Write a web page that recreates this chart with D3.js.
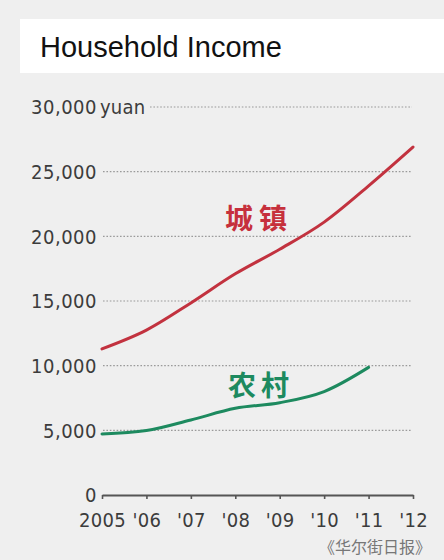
<!DOCTYPE html>
<html>
<head>
<meta charset="utf-8">
<script src="https://cdn.jsdelivr.net/npm/d3@7/dist/d3.min.js"></script>
<style>
  html, body { margin: 0; padding: 0; background: #efefef; }
  svg { display: block; }
</style>
</head>
<body>
<script>
// Per-capita household income, yuan
const years = [2005, 2006, 2007, 2008, 2009, 2010, 2011, 2012];
const urbanIncome = [11300, 12750, 14850, 17100, 19000, 21100, 23900, 26900];
const ruralYears = [2005, 2006, 2007, 2008, 2009, 2010, 2011];
const ruralIncome = [4720, 4980, 5800, 6700, 7140, 8000, 9870];
const yTicks = [0, 5000, 10000, 15000, 20000, 25000, 30000];
const xTickLabels = ["2005", "'06", "'07", "'08", "'09", "'10", "'11", "'12"];

const W = 444, H = 560;
const numFont = "'DejaVu Sans Condensed', 'DejaVu Sans', sans-serif";

const svg = d3.select("body").append("svg")
  .attr("width", W).attr("height", H);

svg.append("rect").attr("width", W).attr("height", H).attr("fill", "#efefef");

// Title band
svg.append("rect")
  .attr("x", 20).attr("y", 19).attr("width", W - 20).attr("height", 54)
  .attr("fill", "#ffffff");
svg.append("text")
  .attr("x", 40).attr("y", 57)
  .attr("font-family", "'Liberation Sans', Arial, sans-serif")
  .attr("font-size", 29)
  .attr("fill", "#111")
  .text("Household Income");

const x = d3.scaleLinear().domain([2005, 2012]).range([102, 413]);
const y = d3.scaleLinear().domain([0, 30000]).range([495, 107]);

// Dotted gridlines with value labels
const fmt = d3.format(",");
const grid = svg.append("g");
yTicks.forEach(v => {
  const top = v === 30000;
  if (v !== 0) {
    grid.append("line")
      .attr("x1", top ? 150 : 103).attr("x2", 412)
      .attr("y1", y(v)).attr("y2", y(v))
      .attr("stroke", "#9a9a9a")
      .attr("stroke-width", 1.2)
      .attr("stroke-dasharray", "1.6,1.8");
  }
  grid.append("text")
    .attr("x", 97).attr("y", y(v))
    .attr("dy", "0.36em")
    .attr("text-anchor", "end")
    .attr("font-family", numFont)
    .attr("font-size", 20)
    .attr("letter-spacing", 0.5)
    .attr("fill", "#3c3c3c")
    .text(fmt(v));
  if (top) {
    grid.append("text")
      .attr("x", 100).attr("y", y(v))
      .attr("dy", "0.36em")
      .attr("font-family", numFont)
      .attr("font-size", 20)
      .attr("letter-spacing", 0.2)
      .attr("fill", "#3c3c3c")
      .text("yuan");
  }
});

// X axis
const xAxis = d3.axisBottom(x)
  .tickValues(years)
  .tickSize(4)
  .tickSizeOuter(0)
  .tickPadding(14)
  .tickFormat((d, i) => xTickLabels[i]);

const gx = svg.append("g")
  .attr("transform", `translate(0,${y(0)})`)
  .call(xAxis);
gx.select(".domain").attr("stroke", "#555").attr("stroke-width", 2.2);
gx.selectAll(".tick line").attr("stroke", "#555").attr("stroke-width", 1.6);
gx.selectAll(".tick text")
  .attr("font-family", numFont)
  .attr("font-size", 20)
  .attr("letter-spacing", 0.3)
  .attr("fill", "#3c3c3c");

// Income lines
const line = d3.line()
  .x(d => x(d[0]))
  .y(d => y(d[1]))
  .curve(d3.curveMonotoneX);

svg.append("path")
  .datum(years.map((yr, i) => [yr, urbanIncome[i]]))
  .attr("d", line)
  .attr("fill", "none")
  .attr("stroke", "#c2323f")
  .attr("stroke-width", 3)
  .attr("stroke-linecap", "round");

svg.append("path")
  .datum(ruralYears.map((yr, i) => [yr, ruralIncome[i]]))
  .attr("d", line)
  .attr("fill", "none")
  .attr("stroke", "#1d8a5f")
  .attr("stroke-width", 3)
  .attr("stroke-linecap", "round");

// Series labels
const cjk = "'Noto Sans CJK SC', sans-serif";
svg.append("text")
  .attr("x", 225).attr("y", 229)
  .attr("font-family", cjk)
  .attr("font-weight", 700)
  .attr("font-size", 28)
  .attr("letter-spacing", 6)
  .attr("fill", "#c6303c")
  .text("城镇");

svg.append("text")
  .attr("x", 228).attr("y", 396)
  .attr("font-family", cjk)
  .attr("font-weight", 700)
  .attr("font-size", 28)
  .attr("letter-spacing", 5)
  .attr("fill", "#1d8a5f")
  .text("农村");

// Source
svg.append("text")
  .attr("x", 431).attr("y", 553)
  .attr("text-anchor", "end")
  .attr("font-family", cjk)
  .attr("font-size", 16)
  .attr("fill", "#777")
  .text("《华尔街日报》");
</script>
</body>
</html>
